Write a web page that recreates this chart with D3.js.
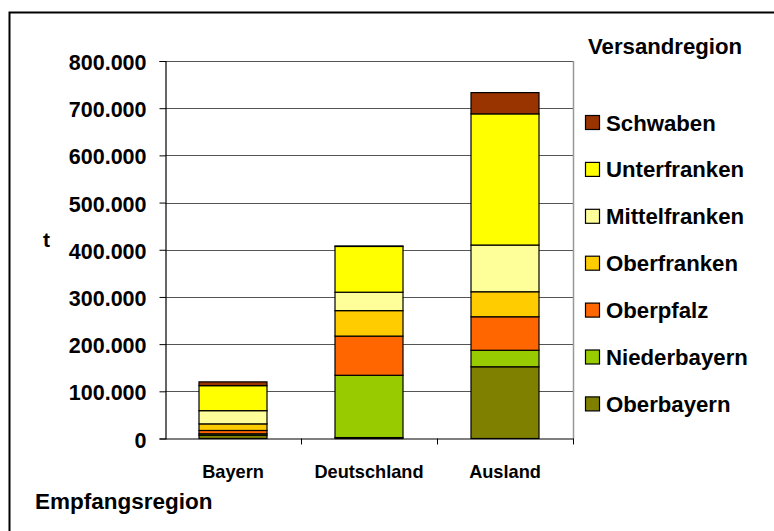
<!DOCTYPE html>
<html><head><meta charset="utf-8">
<script src="https://cdn.jsdelivr.net/npm/d3@7"></script>
<style>
html,body{margin:0;padding:0;background:#fff;}
svg{display:block;font-family:"Liberation Sans",Arial,sans-serif;font-weight:bold;}
</style></head>
<body>
<svg id="chart" width="774" height="531"></svg>
<script>
const categories = ["Bayern", "Deutschland", "Ausland"];
const seriesNames = ["Oberbayern", "Niederbayern", "Oberpfalz", "Oberfranken", "Mittelfranken", "Unterfranken", "Schwaben"];
const oberbayern    = [7000,   2000,   152000];
const niederbayern  = [3000,   132000, 35000];
const oberpfalz     = [7000,   83000,  71000];
const oberfranken   = [14000,  54000,  53000];
const mittelfranken = [28000,  39000,  99000];
const unterfranken  = [53000,  97000,  278000];
const schwaben      = [8000,   1000,   45000];
const seriesColors = ["#808000", "#99CC00", "#FF6600", "#FFCC00", "#FFFF99", "#FFFF00", "#993300"];
const yTicks = [0, 100000, 200000, 300000, 400000, 500000, 600000, 700000, 800000];
const yTitle = "t";
const xTitle = "Empfangsregion";
const legendTitle = "Versandregion";

const seriesValues = [oberbayern, niederbayern, oberpfalz, oberfranken, mittelfranken, unterfranken, schwaben];
const table = categories.map((c, i) => {
  const row = {cat: c};
  seriesNames.forEach((s, j) => row[s] = seriesValues[j][i]);
  return row;
});

const svg = d3.select("#chart");
const pLeft = 165, pRight = 573, pTop = 61, pBottom = 438.5;

// outer border (only left & top visible)
svg.append("rect").attr("x", 9.5).attr("y", 12.5).attr("width", 900).attr("height", 700)
  .attr("fill", "none").attr("stroke", "#000").attr("stroke-width", 2);

const x = d3.scaleBand().domain(categories).range([pLeft, pRight]).paddingInner(0.5).paddingOuter(0.25);
const y = d3.scaleLinear().domain([0, 800000]).range([pBottom, pTop]);
const fmt = d3.formatLocale({decimal: ",", thousands: ".", grouping: [3], currency: ["", "€"]}).format(",d");

// gridlines
svg.append("g").selectAll("line").data(yTicks.filter(d => d > 0)).join("line")
  .attr("x1", pLeft).attr("x2", pRight)
  .attr("y1", d => Math.round(y(d)) + 0.5).attr("y2", d => Math.round(y(d)) + 0.5)
  .attr("stroke", "#555").attr("stroke-width", 1);
// plot area right border
svg.append("line").attr("x1", pRight + 0.5).attr("x2", pRight + 0.5).attr("y1", pTop).attr("y2", pBottom)
  .attr("stroke", "#999").attr("stroke-width", 1.5);

// bars
const stack = d3.stack().keys(seriesNames);
const stacked = stack(table);
svg.append("g").selectAll("g").data(stacked).join("g")
  .attr("fill", (d, i) => seriesColors[i])
  .selectAll("rect").data(d => d).join("rect")
  .attr("x", d => x(d.data.cat))
  .attr("width", x.bandwidth())
  .attr("y", d => y(d[1]))
  .attr("height", d => y(d[0]) - y(d[1]))
  .attr("stroke", "#000").attr("stroke-width", 1.2);

// y axis
const yAxis = d3.axisLeft(y).tickValues(yTicks).tickFormat(fmt).tickSize(6).tickPadding(13);
const gy = svg.append("g").attr("transform", `translate(${pLeft + 0.5},0)`).call(yAxis);
gy.select(".domain").attr("stroke", "#000").attr("stroke-width", 1.2);
gy.selectAll(".tick line").attr("stroke", "#000");
gy.selectAll(".tick text").attr("font-size", 21.5).attr("font-weight", "bold")
  .attr("font-family", "Liberation Sans, Arial, sans-serif").attr("fill", "#000").attr("dy", "0.4em");

// x axis
const xAxis = d3.axisBottom(x).tickSize(0).tickPadding(27);
const gx = svg.append("g").attr("transform", `translate(0,${pBottom})`).call(xAxis);
gx.select(".domain").attr("stroke", "#000").attr("stroke-width", 1.2);
gx.selectAll(".tick text").attr("font-size", 18.2).attr("font-weight", "bold")
  .attr("font-family", "Liberation Sans, Arial, sans-serif").attr("fill", "#000");
// ticks between categories
const sepPos = categories.map(c => x(c) + x.bandwidth() / 2 + x.step() / 2);
gx.selectAll("line.sep").data(sepPos).join("line").attr("class", "sep")
  .attr("x1", d => Math.round(d) + 0.5).attr("x2", d => Math.round(d) + 0.5)
  .attr("y1", 0).attr("y2", 6).attr("stroke", "#000");

// titles
svg.append("text").attr("x", 43).attr("y", 247).attr("font-size", 21).text(yTitle);
svg.append("text").attr("x", 35).attr("y", 509).attr("font-size", 22.5).text(xTitle);
svg.append("text").attr("x", 588).attr("y", 54).attr("font-size", 22.2).text(legendTitle);

// legend (top-down: Schwaben first)
const legendOrder = seriesNames.map((s, i) => ({name: s, color: seriesColors[i]})).reverse();
const lg = svg.append("g").selectAll("g").data(legendOrder).join("g")
  .attr("transform", (d, i) => `translate(585,${122.5 + i * 46.9})`);
lg.append("rect").attr("x", 0.5).attr("y", -7).attr("width", 14).attr("height", 14)
  .attr("fill", d => d.color).attr("stroke", "#000").attr("stroke-width", 1.2);
lg.append("text").attr("x", 21).attr("y", 8).attr("font-size", 22.2).text(d => d.name);
</script>
</body></html>
